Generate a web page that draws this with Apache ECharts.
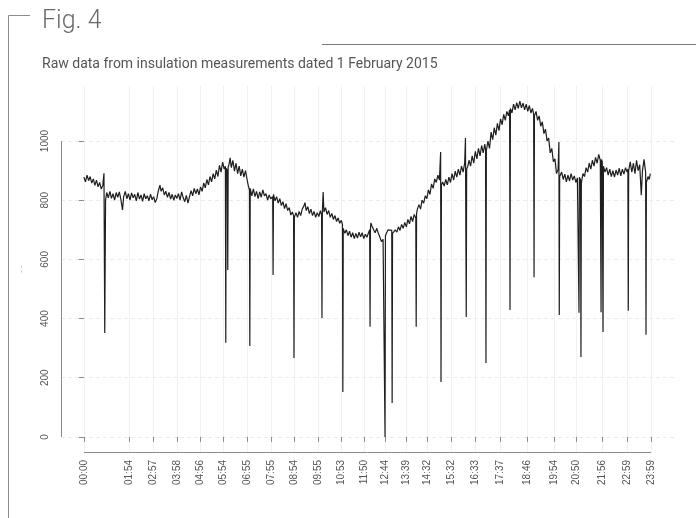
<!DOCTYPE html>
<html>
<head>
<meta charset="utf-8">
<script src="https://cdn.jsdelivr.net/npm/echarts@6/dist/echarts.min.js"></script>
<style>
  html, body { margin: 0; padding: 0; background: #fff; }
  #chart { width: 696px; height: 518px; }
</style>
</head>
<body>
<div id="chart"></div>
<script>
// tick labels on the time axis (HH:MM), as printed under the plot
const tickLabels = [
  "00:00", "01:54", "02:57", "03:58", "04:56", "05:54", "06:55", "07:55",
  "08:54", "09:55", "10:53", "11:50", "12:44", "13:39", "14:32", "15:32",
  "16:33", "17:37", "18:46", "19:54", "20:50", "21:56", "22:59", "23:59",
];
const yTicks = [0, 200, 400, 600, 800, 1000];

// [minute of day, reading] - the noisy trace
const baseline = [
  [0, 878], [4, 862], [8, 885], [12, 866], [16, 880], [20, 858], [24, 872], [28, 850],
  [32, 868], [36, 845], [40, 860], [44, 838], [48, 850], [51, 891],
  [55, 800], [58, 826], [62, 808], [66, 830], [70, 806], [74, 822], [78, 800], [82, 826],
  [86, 810], [90, 828], [94, 802], [98, 767], [101, 812], [105, 830], [109, 805], [113, 822],
  [117, 800], [121, 825], [125, 808], [129, 820], [133, 798], [137, 826], [141, 804], [145, 818],
  [149, 796], [153, 822], [157, 805], [161, 815], [165, 798], [169, 820], [173, 802], [177, 812],
  [181, 792], [185, 805], [189, 832], [193, 851], [196, 830], [200, 842], [204, 818], [208, 830],
  [212, 810], [216, 826], [220, 804], [224, 820], [228, 800], [232, 818], [236, 806], [240, 822],
  [244, 800], [248, 828], [252, 808], [256, 795], [260, 816], [264, 790], [268, 812], [272, 832],
  [276, 815], [280, 840], [284, 822], [288, 838], [292, 818], [296, 845], [300, 830], [304, 858],
  [308, 842], [312, 870], [316, 852], [320, 880], [324, 862], [328, 890], [332, 872], [336, 902],
  [340, 880], [344, 918], [348, 895], [352, 929], [356, 905], [359, 915],
  [361, 908], [364, 900], [366, 912], [368, 920], [371, 943], [374, 910], [378, 935], [382, 898],
  [386, 925], [390, 890], [394, 915], [398, 882], [402, 905], [406, 878], [410, 900], [414, 870],
  [417, 850], [420, 834],
  [422, 840], [426, 815], [430, 838], [434, 812], [438, 830], [442, 805], [446, 828], [450, 810],
  [454, 835], [458, 815], [462, 822], [466, 800], [470, 818], [474, 805], [479, 812],
  [481, 820], [485, 798], [489, 812], [493, 790], [497, 805], [501, 782], [505, 795], [509, 772],
  [513, 788], [517, 765], [521, 775], [525, 750], [529, 760], [532, 748],
  [534, 742], [538, 758], [542, 742], [546, 762], [550, 748], [554, 770], [558, 780], [561, 792],
  [564, 765], [568, 778], [572, 755], [576, 770], [580, 748], [584, 762], [588, 742], [592, 758],
  [596, 745], [600, 765], [603, 750],
  [605, 760], [607, 828], [609, 760], [613, 775], [617, 752], [621, 765], [625, 742], [629, 755],
  [633, 735], [637, 748], [641, 728], [645, 740], [649, 722], [653, 732], [656, 718],
  [658, 705], [662, 688], [666, 700], [670, 680], [674, 695], [678, 675], [682, 690], [686, 670],
  [690, 688], [694, 672], [698, 692], [702, 676], [706, 690], [710, 670], [714, 685], [718, 675],
  [722, 690], [725, 700],
  [727, 705], [728, 723], [731, 712], [735, 700], [739, 690], [743, 705], [747, 688], [751, 675],
  [755, 660], [759, 668], [763, 662],
  [765, 680], [768, 690], [772, 700], [776, 705], [781, 698],
  [783, 688], [786, 688], [790, 700], [794, 692], [798, 710], [802, 698], [806, 718], [810, 705],
  [814, 725], [818, 710], [822, 735], [826, 720], [830, 745], [834, 728], [838, 752], [842, 740],
  [844, 755], [846, 770], [850, 785], [854, 770], [858, 800], [862, 790], [866, 815], [870, 805],
  [874, 835], [878, 820], [882, 855], [886, 840], [890, 872], [894, 860], [898, 885], [902, 868],
  [905, 963],
  [907, 850], [910, 862], [914, 848], [918, 870], [922, 852], [926, 878], [930, 860], [934, 890],
  [938, 868], [942, 898], [946, 878], [950, 905], [954, 885], [958, 915], [962, 895], [966, 925],
  [968, 1010],
  [971, 905], [974, 915], [977, 935], [981, 915], [985, 950], [989, 925], [993, 965], [997, 940],
  [1001, 975], [1005, 950], [1009, 985], [1013, 960], [1017, 990], [1019, 970],
  [1021, 968], [1025, 1000], [1029, 975], [1033, 1030], [1037, 1005], [1041, 1045], [1045, 1020],
  [1049, 1060], [1053, 1035], [1057, 1075], [1061, 1055], [1065, 1090], [1069, 1070],
  [1073, 1100], [1077, 1085], [1080, 1105],
  [1082, 1110], [1086, 1095], [1090, 1125], [1094, 1105], [1098, 1130], [1102, 1110],
  [1106, 1135], [1110, 1112], [1114, 1128], [1118, 1105], [1122, 1125], [1126, 1100],
  [1130, 1120], [1134, 1095], [1138, 1110], [1141, 1090],
  [1143, 1085], [1147, 1100], [1151, 1070], [1155, 1085], [1159, 1050], [1163, 1065],
  [1167, 1025], [1171, 1040], [1175, 1000], [1179, 1010], [1183, 960], [1187, 975],
  [1191, 930], [1195, 940], [1199, 890], [1203, 905], [1205, 997],
  [1207, 880], [1212, 895], [1216, 870], [1220, 888], [1224, 862], [1228, 885], [1232, 865],
  [1236, 890], [1240, 868], [1244, 882], [1248, 860], [1252, 875], [1255, 870],
  [1257, 878], [1259, 872], [1260, 868],
  [1262, 858], [1266, 890], [1270, 880], [1274, 910], [1278, 895], [1282, 925], [1286, 905],
  [1290, 935], [1294, 915], [1298, 945], [1302, 925], [1306, 955], [1310, 935], [1311, 940],
  [1313, 938], [1315, 930], [1316, 925],
  [1318, 915], [1322, 895], [1326, 910], [1330, 885], [1334, 905], [1338, 880], [1342, 900],
  [1346, 878], [1350, 902], [1354, 885], [1358, 908], [1362, 882], [1366, 905], [1370, 888],
  [1374, 910], [1378, 895], [1380, 905],
  [1382, 900], [1386, 930], [1390, 895], [1394, 925], [1398, 890], [1402, 935], [1406, 900],
  [1410, 920], [1414, 817], [1417, 900], [1421, 938], [1424, 905], [1425, 895],
  [1427, 860], [1431, 880], [1434, 870], [1437, 890],
];

// single-sample drop-outs (the long vertical spikes)
const dips = [
  [53, 351], [360, 318], [365, 564], [421, 307], [480, 547], [533, 267], [604, 402],
  [657, 152], [726, 372], [764, 0], [782, 115], [843, 372], [906, 186], [970, 405],
  [1020, 250], [1081, 429], [1142, 540], [1206, 412], [1256, 420], [1261, 270],
  [1312, 421], [1317, 355], [1381, 426], [1426, 345],
];

const X_MIN = -58;
const X_MAX = 1497;
const Y_MIN = -51;
const Y_MAX = 1186;

function toMinutes(label) {
  const [h, m] = label.split(":").map(Number);
  return h * 60 + m;
}

function toLabel(min) {
  const h = Math.floor(min / 60);
  const m = min % 60;
  return `${String(h).padStart(2, "0")}:${String(m).padStart(2, "0")}`;
}

const tickMinutes = tickLabels.map(toMinutes);
const trace = baseline.concat(dips).sort((a, b) => a[0] - b[0]);

const axisGray = "#8a8a8a";
const labelStyle = { color: "#555", fontSize: 10, fontFamily: "Liberation Sans, Arial, sans-serif" };

const chart = echarts.init(document.getElementById("chart"), null, { renderer: "canvas" });

chart.setOption({
  animation: false,
  backgroundColor: "#fff",
  grid: { left: 61, right: 22, top: 86, bottom: 66, containLabel: false },
  xAxis: {
    type: "value",
    min: X_MIN,
    max: X_MAX,
    axisLine: { show: false },
    axisTick: { show: true, customValues: tickMinutes, length: 5, lineStyle: { color: axisGray } },
    axisLabel: {
      customValues: tickMinutes,
      rotate: 90,
      margin: 8,
      formatter: (v) => toLabel(v),
      ...labelStyle,
    },
    splitLine: { show: true, lineStyle: { color: "#f1f1f1", width: 1 } },
  },
  yAxis: {
    type: "value",
    min: Y_MIN,
    max: Y_MAX,
    name: "- -",
    nameLocation: "middle",
    nameGap: 36,
    nameRotate: 90,
    nameTextStyle: { color: "#999", fontSize: 8 },
    axisLine: { show: false },
    axisTick: { show: true, customValues: yTicks, length: 5, lineStyle: { color: axisGray } },
    axisLabel: { customValues: yTicks, rotate: 90, margin: 11, formatter: (v) => String(v), ...labelStyle },
    splitLine: { show: true, lineStyle: { color: "#ebebeb", width: 1, type: [4, 3] } },
  },
  graphic: [
    { type: "polyline", shape: { points: [[30, 15.5], [8.5, 15.5], [8.5, 518]] }, style: { stroke: "#8c8c8c", lineWidth: 1, fill: null } },
    { type: "line", shape: { x1: 322, y1: 44.5, x2: 696, y2: 44.5 }, style: { stroke: "#7a7a7a", lineWidth: 1 } },
    { type: "text", x: 42, y: 22, style: { text: "Fig. 4", fill: "#6a6a6a", font: "300 25px Roboto, 'Liberation Sans', sans-serif", verticalAlign: "middle" } },
    { type: "text", x: 42, y: 64, style: { text: "Raw data from insulation measurements dated 1 February 2015", fill: "#555", font: "14px Roboto, 'Liberation Sans', sans-serif", verticalAlign: "middle" } },
  ],
  series: [
    {
      type: "line",
      data: trace,
      symbol: "none",
      clip: false,
      silent: true,
      lineStyle: { color: "#1e1e1e", width: 1.2 },
      markLine: {
        silent: true,
        symbol: ["none", "none"],
        label: { show: false },
        lineStyle: { color: axisGray, width: 1, type: "solid" },
        data: [
          [{ coord: [tickMinutes[0], Y_MIN] }, { coord: [tickMinutes[tickMinutes.length - 1], Y_MIN] }],
          [{ coord: [X_MIN, yTicks[0]] }, { coord: [X_MIN, yTicks[yTicks.length - 1]] }],
        ],
      },
    },
  ],
});
</script>
</body>
</html>
